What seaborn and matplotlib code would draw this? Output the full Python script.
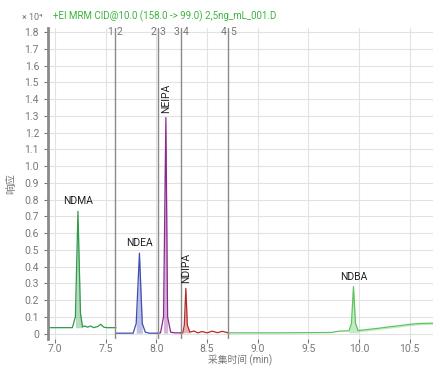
import pandas as pd
import matplotlib
matplotlib.use('Agg')
import matplotlib.pyplot as plt
import seaborn as sns

# Segment data (time in min, response in x10^4)
seg1_t = [6.93, 7.17, 7.20, 7.225, 7.25, 7.27, 7.29, 7.32, 7.35, 7.38, 7.42, 7.45, 7.48, 7.51, 7.60]
seg1_y = [0.035, 0.035, 0.10, 0.73, 0.12, 0.04, 0.045, 0.038, 0.045, 0.035, 0.042, 0.055, 0.038, 0.035, 0.035]
seg2_t = [7.60, 7.77, 7.80, 7.832, 7.86, 7.89, 7.93, 8.015]
seg2_y = [0.002, 0.002, 0.06, 0.48, 0.06, 0.008, 0.002, 0.002]
seg3_t = [8.015, 8.04, 8.07, 8.093, 8.11, 8.14, 8.18, 8.24]
seg3_y = [0.002, 0.004, 0.10, 1.29, 0.10, 0.008, 0.004, 0.004]
seg4_t = [8.24, 8.26, 8.275, 8.29, 8.305, 8.33, 8.37, 8.41, 8.45, 8.50, 8.55, 8.60, 8.65, 8.71]
seg4_y = [0.004, 0.004, 0.05, 0.27, 0.05, 0.008, 0.015, 0.004, 0.012, 0.004, 0.014, 0.005, 0.013, 0.004]
seg5_t = [8.71, 9.20, 9.72, 9.80, 9.90, 9.925, 9.945, 9.965, 9.99, 10.10, 10.20, 10.30, 10.40, 10.50, 10.60, 10.73]
seg5_y = [0.004, 0.004, 0.006, 0.014, 0.016, 0.06, 0.28, 0.06, 0.018, 0.025, 0.032, 0.040, 0.047, 0.055, 0.060, 0.062]

segments = [
    (seg1_t, seg1_y, '#2e9a4a'),
    (seg2_t, seg2_y, '#3f4fb0'),
    (seg3_t, seg3_y, '#8a2a8e'),
    (seg4_t, seg4_y, '#b62a2a'),
    (seg5_t, seg5_y, '#5cc45c'),
]

separators = [7.59, 8.015, 8.24, 8.71]
peak_names = ['NDMA', 'NDEA', 'NEIPA', 'NDIPA', 'NDBA']
peak_t = [7.225, 7.832, 8.093, 8.29, 9.945]
peak_y = [0.73, 0.48, 1.29, 0.27, 0.28]
peak_rot = [0, 0, 90, 90, 0]

sns.set_style('white')
plt.rcParams['font.family'] = ['Roboto', 'Noto Sans CJK SC', 'DejaVu Sans']

fig = plt.figure(figsize=(4.33, 3.66), dpi=100)
ax = fig.add_axes([0.111, 0.075, 0.889, 0.848])

for (t, y, c), pt in zip(segments, peak_t):
    df = pd.DataFrame({'t': t, 'y': y})
    sns.lineplot(data=df, x='t', y='y', color=c, linewidth=0.9, ax=ax)
    # light fill under the integrated peak only
    base = y[0]
    mask = [abs(v - pt) <= 0.045 for v in t]
    ax.fill_between(t, y, base, where=mask, color=c, alpha=0.35, linewidth=0)

# rising baseline band after NDBA
ax.fill_between(seg5_t, seg5_y, [v - 0.008 for v in seg5_y],
                where=[v >= 9.99 for v in seg5_t], color='#5cc45c', alpha=0.35, linewidth=0)

for s in separators:
    ax.axvline(s, color='#8a8a8a', linewidth=1.0, zorder=3)
for i, s in enumerate(separators):
    ax.text(s - 0.015, 1.80, str(i + 1), ha='right', va='center', fontsize=7.5, color='#777777')
    ax.text(s + 0.015, 1.80, str(i + 2), ha='left', va='center', fontsize=7.5, color='#777777')

for name, t, y, r in zip(peak_names, peak_t, peak_y, peak_rot):
    if r == 0:
        ax.text(t, y + 0.03, name, ha='center', va='bottom', fontsize=7.5, color='#222222')
    else:
        ax.text(t + 0.004, y + 0.03, name, ha='center', va='bottom', rotation=90, fontsize=7.5, color='#222222')

ax.set_xlim(6.93, 10.73)
ax.set_ylim(-0.03, 1.824)
ax.set_xticks([7.0, 7.5, 8.0, 8.5, 9.0, 9.5, 10.0, 10.5])
ax.set_yticks([i / 10 for i in range(19)])
ax.set_yticklabels(['0'] + ['%.1f' % (i / 10) for i in range(1, 19)])
ax.grid(True, color='#e2e2e2', linewidth=0.8)
ax.set_axisbelow(True)
ax.tick_params(axis='both', labelsize=7.5, colors='#777777', length=3, width=0.8, direction='out',
               left=True, bottom=True)
ax.tick_params(axis='x', pad=1)
for side in ['top', 'right', 'bottom']:
    ax.spines[side].set_visible(False)
ax.spines['left'].set_color('#8a8a8a')
ax.spines['left'].set_linewidth(2.0)

ax.set_xlabel('采集时间 (min)', fontsize=7, color='#777777', labelpad=0)
ax.set_ylabel('响应', fontsize=7.5, color='#777777', labelpad=6)

fig.text(0.05, 0.953, '× 10⁴', fontsize=6.5, color='#777777', ha='left', va='center')
fig.text(0.122, 0.955, '+EI MRM CID@10.0 (158.0 -> 99.0) 2,5ng_mL_001.D', fontsize=7, color='#3cb43c',
         ha='left', va='center')

fig.savefig('out.png', dpi=100)
